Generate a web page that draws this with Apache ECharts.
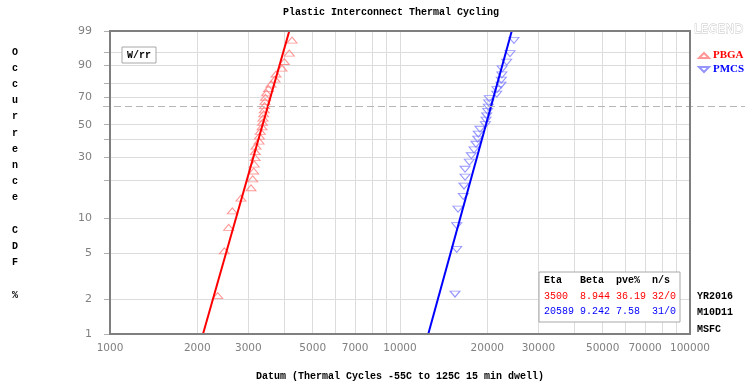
<!DOCTYPE html>
<html><head><meta charset="utf-8">
<script src="https://cdn.jsdelivr.net/npm/echarts@6/dist/echarts.min.js"></script>
<style>html,body{margin:0;padding:0;background:#fff}#c{width:750px;height:387px}</style>
</head><body><div id="c"></div>
<script>
// ---- data ----
const seriesNames = ['PBGA', 'PMCS'];
const pbgaCycles = [2352, 2478, 2566, 2641, 2829, 3064, 3105, 3130, 3145, 3165, 3170, 3188, 3265, 3275, 3298, 3343,
  3357, 3370, 3388, 3405, 3410, 3424, 3437, 3465, 3520, 3591, 3707, 3736, 3918, 3991, 4152, 4242];
const pbgaRankPct = [2.16, 5.25, 8.33, 11.42, 14.51, 17.59, 20.68, 23.77, 26.85, 29.94, 33.02, 36.11, 39.20, 42.28, 45.37, 48.46,
  51.54, 54.63, 57.72, 60.80, 63.89, 66.98, 70.06, 73.15, 76.23, 79.32, 82.41, 85.49, 88.58, 91.67, 94.75, 97.84];
const pmcsCycles = [15480, 15690, 15690, 15850, 16530, 16620, 16760, 16760, 17340, 17620, 18000, 18280, 18530, 18620, 18870, 19700,
  19800, 19900, 20060, 20160, 20220, 20320, 21550, 21600, 22300, 22350, 22450, 22500, 23330, 23950, 24720];
const pmcsRankPct = [2.23, 5.41, 8.60, 11.78, 14.97, 18.15, 21.34, 24.52, 27.71, 30.89, 34.08, 37.26, 40.45, 43.63, 46.82, 50.00,
  53.18, 56.37, 59.55, 62.74, 65.92, 69.11, 72.29, 75.48, 78.66, 81.85, 85.03, 88.22, 91.40, 94.59, 97.77];
const fitEta = [3500, 20589];
const fitBeta = [8.944, 9.242];
const fitPve = ['36.19', '7.58'];
const fitNs = ['32/0', '31/0'];
const xTickLabels = [1000, 2000, 3000, 5000, 7000, 10000, 20000, 30000, 50000, 70000, 100000];
const xGridValues = [1000, 2000, 3000, 4000, 5000, 6000, 7000, 8000, 9000, 10000, 20000, 30000, 40000, 50000, 60000, 70000, 80000, 90000, 100000];
const yTickLabels = [1, 2, 5, 10, 30, 50, 70, 90, 99];
const yGridValues = [1, 2, 5, 10, 20, 30, 40, 50, 70, 80, 90, 95, 99];
const stampLines = ['YR2016', 'M10D11', 'MSFC'];

// ---- styles ----
const lineColors = ['#ff0000', '#0000ff'];
const markerColors = ['#ff7b7b', '#7b7bff'];
const MONO = '"Liberation Mono", "DejaVu Sans Mono", monospace';

// Weibull probability scale and log10 scale
function wb(p) { return Math.log(-Math.log(1 - p / 100)); }
function lg(v) { return Math.log10(v); }
const yMin = wb(yTickLabels[0]), yMax = wb(yTickLabels[yTickLabels.length - 1]);
const xMin = lg(xTickLabels[0]), xMax = lg(xTickLabels[xTickLabels.length - 1]);

const upTri = 'path://M0,10 L20,10 L10,0 Z';
const downTri = 'path://M0,0 L20,0 L10,10 Z';

const cyc = [pbgaCycles, pmcsCycles];
const rk = [pbgaRankPct, pmcsRankPct];
const series = [];
seriesNames.forEach((nm, k) => {
  series.push({
    type: 'scatter', name: nm, symbol: k === 0 ? upTri : downTri, symbolSize: [10, 6],
    itemStyle: { color: 'rgba(255,255,255,0)', borderColor: markerColors[k], borderWidth: 1 },
    data: cyc[k].map((c, i) => [lg(c), wb(rk[k][i])]), z: 3, silent: true
  });
});
seriesNames.forEach((nm, k) => {
  const lo = lg(fitEta[k]) + yMin / (fitBeta[k] * Math.LN10);
  const hi = lg(fitEta[k]) + yMax / (fitBeta[k] * Math.LN10);
  series.push({
    type: 'line', name: nm + ' fit', symbol: 'none', silent: true,
    lineStyle: { color: lineColors[k], width: 2 },
    data: [[lo, yMin], [hi, yMax]], z: 4
  });
});

const chart = echarts.init(document.getElementById('c'));
chart.setOption({
  animation: false,
  backgroundColor: '#fff',
  grid: { left: 110, right: 60, top: 31, bottom: 53, show: true, backgroundColor: '#fff', borderWidth: 0 },
  legend: {
    orient: 'vertical', left: 693, top: 45, itemWidth: 10, itemHeight: 6, itemGap: 3,
    selectedMode: false,
    textStyle: { fontFamily: '"Liberation Serif", serif', fontWeight: 'bold', fontSize: 11, padding: [0, 0, 0, -1] },
    data: [
      { name: 'PBGA', textStyle: { color: '#ff0000' } },
      { name: 'PMCS', textStyle: { color: '#0000ff' } }
    ]
  },
  xAxis: {
    type: 'value', min: xMin, max: xMax,
    axisLine: { show: false },
    axisTick: { show: false, customValues: xGridValues.map(lg) },
    splitLine: { show: true, lineStyle: { color: '#dcdcdc', width: 1 } },
    axisLabel: {
      customValues: xTickLabels.map(lg), color: '#808080', fontSize: 10.5, fontFamily: 'DejaVu Sans', margin: 9,
      formatter: v => String(Math.round(Math.pow(10, v)))
    }
  },
  yAxis: {
    type: 'value', min: yMin, max: yMax,
    axisLine: { show: false },
    axisTick: { show: true, length: 6, customValues: yGridValues.map(wb), lineStyle: { color: '#b0b0b0' } },
    splitLine: { show: true, lineStyle: { color: '#dcdcdc', width: 1 } },
    axisLabel: {
      customValues: yTickLabels.map(wb), color: '#808080', fontSize: 11, fontFamily: 'DejaVu Sans', margin: 18,
      formatter: v => String(Math.round(100 * (1 - Math.exp(-Math.exp(v)))))
    }
  },
  series: series
});

const pTL = chart.convertToPixel({ gridIndex: 0 }, [xMin, yMax]);
const pBR = chart.convertToPixel({ gridIndex: 0 }, [xMax, yMin]);
const pEta = chart.convertToPixel({ gridIndex: 0 }, [xMin, 0]);
const tx = (id, x, y, text, style) => ({ type: 'text', id, x, y, z: 50, silent: true,
  style: Object.assign({ text, font: 'bold 10px ' + MONO, fill: '#000', textAlign: 'left', textVerticalAlign: 'middle' }, style || {}) });

const graphics = [
  // frame
  { type: 'rect', id: 'frame', z: 40, silent: true,
    shape: { x: pTL[0], y: pTL[1], width: pBR[0] - pTL[0], height: pBR[1] - pTL[1] },
    style: { fill: 'none', stroke: '#7f7f7f', lineWidth: 2 } },
  // characteristic life dashed line (63.2%)
  { type: 'line', id: 'eta', z: 35, silent: true,
    shape: { x1: pTL[0] - 7, y1: pEta[1], x2: 745, y2: pEta[1] },
    style: { stroke: '#b5b5b5', lineWidth: 1, lineDash: [7, 4] } },
  tx('title', 391, 12, 'Plastic Interconnect Thermal Cycling', { textAlign: 'center' }),
  tx('xname', (pTL[0] + pBR[0]) / 2, 376, 'Datum (Thermal Cycles -55C to 125C 15 min dwell)', { textAlign: 'center' }),
  { type: 'text', id: 'yname', x: 15, y: 44, z: 50, silent: true,
    style: { text: 'O\nc\nc\nu\nr\nr\ne\nn\nc\ne\n\nC\nD\nF\n\n%', font: 'bold 10px ' + MONO, fill: '#000',
      textAlign: 'center', textVerticalAlign: 'top', lineHeight: 16.2 } },
  // W/rr box
  { type: 'rect', id: 'wrrbox', z: 45, silent: true, shape: { x: 122, y: 47, width: 34, height: 16 },
    style: { fill: '#fff', stroke: '#a8a8a8', lineWidth: 1 } },
  tx('wrr', 139, 55.5, 'W/rr', { textAlign: 'center' }),
  // LEGEND caption
  { type: 'text', id: 'legcap', x: 694, y: 30, z: 50, silent: true,
    style: { text: 'LEGEND', font: '12px "DejaVu Sans", sans-serif', fill: '#fff', stroke: '#c4c4c4', lineWidth: 0.8,
      textAlign: 'left', textVerticalAlign: 'middle' } },
  // stats box
  { type: 'rect', id: 'statbox', z: 45, silent: true, shape: { x: 539, y: 272, width: 141, height: 50 },
    style: { fill: '#fff', stroke: '#a8a8a8', lineWidth: 1 } },
  tx('sh', 544, 280, 'Eta   Beta  pve%  n/s', {}),
];
const pad = (s, n) => (s + '      ').slice(0, n);
seriesNames.forEach((nm, k) => {
  const line = pad(String(fitEta[k]), 6) + pad(fitBeta[k].toFixed(3), 6) + pad(fitPve[k], 6) + fitNs[k];
  graphics.push(tx('st' + k, 544, 296 + k * 15.5, line, { fill: lineColors[k], font: '10px ' + MONO }));
});
stampLines.forEach((s, i) => graphics.push(tx('stamp' + i, 697, 296 + i * 16.5, s, {})));
chart.setOption({ graphic: graphics });
</script></body></html>
